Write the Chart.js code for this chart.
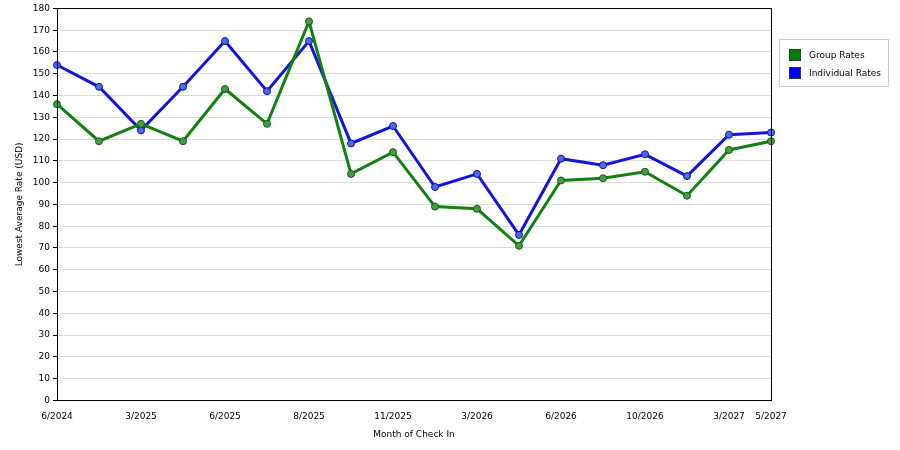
<!DOCTYPE html>
<html><head><script src="https://cdn.jsdelivr.net/npm/chart.js"></script>
<style>body{margin:0;background:#fff}#w{position:relative;width:900px;height:450px}
#lg{position:absolute;left:779px;top:39px;width:110px;height:48px;border:1px solid #ccc;font:9px "DejaVu Sans";box-sizing:border-box;padding:6px 0 0 9px}
#lg div{height:18px;display:flex;align-items:center}#lg span{display:inline-block;width:12px;height:12px;margin-right:8px;border:1px solid #333;box-sizing:border-box}</style></head>
<body><div id="w"><canvas id="c" width="900" height="450"></canvas>
<div id="lg"><div><span style="background:#008000"></span>Group Rates</div><div><span style="background:#0000ff"></span>Individual Rates</div></div></div>
<script>
const tickLabels=["6/2024","","3/2025","","6/2025","","8/2025","","11/2025","","3/2026","","6/2026","","10/2026","","3/2027","5/2027"];
const groupRates=[136,119,127,119,143,127,174,104,114,89,88,71,101,102,105,94,115,119];
const individualRates=[154,144,124,144,165,142,165,118,126,98,104,76,111,108,113,103,122,123];
const f={family:"DejaVu Sans",size:9};
const frame={id:'frame',afterDraw(c){const a=c.chartArea,x=c.ctx;x.save();x.strokeStyle='#000';x.lineWidth=1;x.strokeRect(Math.round(a.left)+0.5,Math.round(a.top)+0.5,Math.round(a.right-a.left),Math.round(a.bottom-a.top));x.restore();}};
new Chart(document.getElementById('c'),{type:'line',plugins:[frame],
data:{labels:tickLabels.map((t,i)=>i),datasets:[
{label:'Group Rates',data:groupRates,borderColor:'#138013',backgroundColor:'#4a9a4a',borderWidth:3,pointRadius:3.5,pointBorderWidth:1,pointBorderColor:'#0a600a',tension:0},
{label:'Individual Rates',data:individualRates,borderColor:'#1515d8',backgroundColor:'#4a6ae8',borderWidth:3,pointRadius:3.5,pointBorderWidth:1,pointBorderColor:'#1010a0',tension:0}]},
options:{responsive:false,animation:false,layout:{padding:{left:10,top:1,right:129,bottom:6}},
plugins:{legend:{display:false},tooltip:{enabled:false}},
scales:{x:{offset:false,grid:{display:false},border:{color:'#000'},ticks:{autoSkip:false,maxRotation:0,color:'#000',font:f,callback:(v,i)=>tickLabels[i]},title:{display:true,text:'Month of Check In',color:'#000',font:f}},
y:{min:0,max:180,afterFit:a=>{a.width=47},border:{color:'#000'},grid:{color:'#ddd',tickColor:'#000',tickLength:4,drawTicks:true},border:{color:'#000',dash:[]},ticks:{stepSize:10,color:'#000',font:f},title:{display:true,text:'Lowest Average Rate (USD)',color:'#000',font:f}}}}});
</script></body></html>
